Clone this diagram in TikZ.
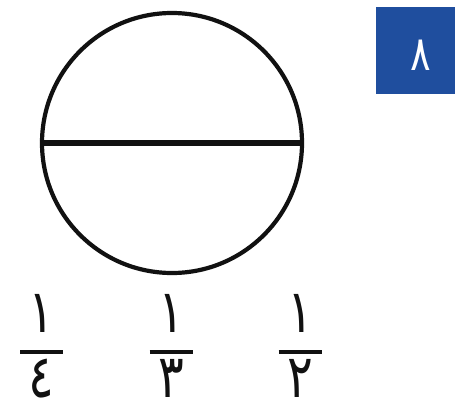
\documentclass[tikz,border=0pt]{standalone}
\usepackage{fontspec}
\newfontfamily\arabicfont[Script=Arabic, FakeStretch=0.8]{DejaVu Sans}
\definecolor{boxBlue}{HTML}{1F4E9E}
\definecolor{inkBlack}{HTML}{111111}
\usepackage{tikz}
\usetikzlibrary{positioning}
\newcommand{\digitBig}{\arabicfont\fontsize{30}{30}\selectfont}
\tikzset{
  digitnode/.style={inner sep=0pt, anchor=base, text=inkBlack, font=\digitBig},
  fracbar/.style={draw=inkBlack, line width=1.6pt}
}

\begin{document}
\begin{tikzpicture}[x=0.5pt, y=0.5pt]
  \useasboundingbox (0,0) rectangle (455,409);
  % circle cut by its diameter
  \node[circle, draw=inkBlack, line width=2.1pt, minimum size=130pt, inner sep=0pt] (disk) at (172,266) {};
  \draw[inkBlack, line width=2.6pt] (disk.west) -- (disk.east);
  % question number
  \node[fill=boxBlue, minimum width=39.5pt, minimum height=43.5pt, inner sep=0pt] (numbox) at (415.5,358.5) {};
  \node[digitnode, text=white, font=\arabicfont\fontsize{24}{24}\selectfont] (numlabel) at (421,339) {٨};
  % the three fractions
  \foreach \x/\d/\n in {41.5/٤/four, 171/٣/three, 300/٢/two} {
    \node[digitnode] (top\n) at (\x,77) {١};
    \node[digitnode] (bot\n) at (\x,12) {\d};
    \coordinate (barL\n) at (\x-21.5,57);
    \coordinate (barR\n) at (\x+21.5,57);
    \draw[fracbar] (barL\n) -- (barR\n);
  }
\end{tikzpicture}
\end{document}
